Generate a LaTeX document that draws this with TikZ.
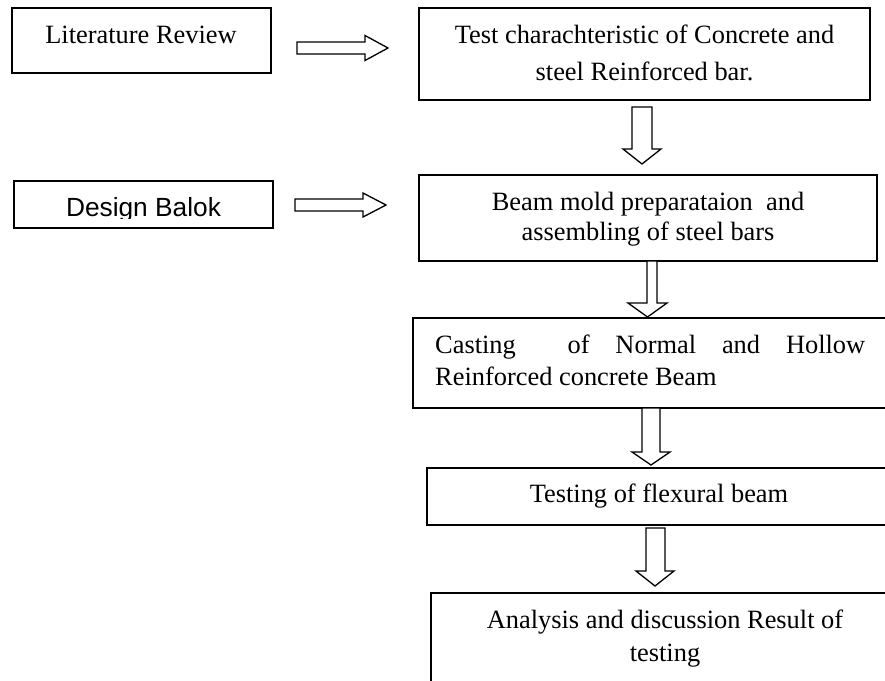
\documentclass[tikz,border=0pt]{standalone}
\usepackage{fontspec}
\setmainfont{Liberation Serif}
\newfontfamily\arialf{Liberation Sans}
\begin{document}
\begin{tikzpicture}[x=1pt,y=-1pt,
  box/.style={draw=black, line width=2pt, rectangle, inner sep=0pt, fill=white},
  txt/.style={anchor=base, inner sep=0pt, font=\fontsize{26.4}{30}\selectfont},
  arrowline/.style={draw=black, line width=1.3pt, line join=miter, fill=white}]
\def\myharrow#1#2#3#4#5#6{%
  \draw[arrowline] (#1,{#2-#5}) -- (#3,{#2-#5}) -- (#3,{#2-#6}) -- (#4,#2) -- (#3,{#2+#6}) -- (#3,{#2+#5}) -- (#1,{#2+#5}) -- cycle;}
\def\myvarrow#1#2#3#4#5#6#7{%
  \draw[arrowline] ({#1-#5},#2) -- ({#1-#5},#3) -- ({#7-#6},#3) -- (#7,#4) -- ({#7+#6},#3) -- ({#1+#5},#3) -- ({#1+#5},#2) -- cycle;}
\useasboundingbox (0,0) rectangle (885,680);
\clip (0,0) rectangle (885,680);
% boxes
\node[box, minimum width=259pt, minimum height=65pt] (lit) at (141.5,40.5) {};
\node[box, minimum width=451pt, minimum height=92pt] (test) at (644.5,54) {};
\node[box, minimum width=259pt, minimum height=47pt] (design) at (143.5,204.5) {};
\node[box, minimum width=458pt, minimum height=86pt] (beam) at (648,218) {};
\node[box, minimum width=475pt, minimum height=90pt] (cast) at (650.5,363) {};
\node[box, minimum width=465pt, minimum height=57pt] (testing) at (659.5,496.5) {};
\node[box, minimum width=469pt, minimum height=107pt] (anal) at (665.5,646.5) {};
% texts
\node[txt] (litT) at (141,43) {Literature Review};
\node[txt] (testT1) at (644.5,43) {Test charachteristic of Concrete and};
\node[txt] (testT2) at (644.5,80) {steel Reinforced bar.};
\begin{scope}
\clip (14,181) rectangle (273,218);
\node[txt, font=\arialf\fontsize{26.3}{30}\selectfont] (designT) at (143.5,216.7) {Design Balok};
\end{scope}
\node[txt] (beamT1) at (648,210.7) {Beam mold preparataion\ \ and};
\node[txt] (beamT2) at (648,240.7) {assembling of steel bars};
\node[txt, anchor=base west] (castT1) at (435,353) {\makebox[430pt][s]{Casting\hfill\hfill of\hfill Normal\hfill and\hfill Hollow}};
\node[txt, anchor=base west] (castT2) at (435,385) {Reinforced concrete Beam};
\node[txt] (testingT) at (659,502) {Testing of flexural beam};
\node[txt] (analT1) at (665,628.3) {Analysis and discussion Result of};
\node[txt] (analT2) at (665,661) {testing};
% block arrows
\myharrow{297}{48}{365}{388}{6}{12.5}
\myharrow{295}{205}{363}{386}{6}{12}
\myvarrow{642}{107}{149}{164}{10}{19}{642}
\myvarrow{652}{261}{303}{317}{5}{19.5}{647.5}
\myvarrow{651}{408}{452}{465}{9}{19}{651}
\myvarrow{655.5}{528}{571}{586}{9.5}{19}{655}
\end{tikzpicture}
\end{document}
